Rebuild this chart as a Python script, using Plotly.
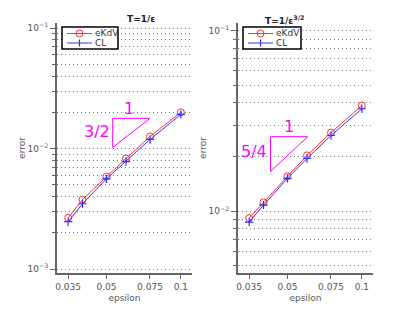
import math
import plotly.graph_objects as go

# ---- data ----
epsilon = [0.035, 0.04, 0.05, 0.06, 0.075, 0.1]
ekdv_left = [0.00266, 0.00376, 0.00585, 0.00826, 0.0126, 0.0200]
cl_left = [0.00247, 0.00348, 0.0056, 0.0078, 0.0119, 0.0192]
ekdv_right = [0.00914, 0.0112, 0.0156, 0.0204, 0.0273, 0.0385]
cl_right = [0.0087, 0.0108, 0.0152, 0.0196, 0.0263, 0.0370]

series_names = ["eKdV", "CL"]

x_ticks = [0.035, 0.05, 0.075, 0.1]
x_ticktext = ["0.035", "0.05", "0.075", "0.1"]
y_ticks_left = [0.001, 0.01, 0.1]
y_ticktext_left = ["10<sup>−3</sup>", "10<sup>−2</sup>", "10<sup>−1</sup>"]
y_ticks_right = [0.01, 0.1]
y_ticktext_right = ["10<sup>−2</sup>", "10<sup>−1</sup>"]

# slope triangles (x, y) and labels
tri_left_x = [0.053, 0.075, 0.053, 0.053]
tri_left_y = [0.0178, 0.0178, 0.0102, 0.0178]
tri_right_x = [0.0427, 0.0604, 0.0427, 0.0427]
tri_right_y = [0.0259, 0.0259, 0.0166, 0.0259]
lab_left = [("1", 0.0615, 0.0215), ("3/2", 0.0459, 0.01387)]
lab_right = [("1", 0.0509, 0.0295), ("5/4", 0.0366, 0.0214)]

titles = ["T=1/ε", "T=1/ε<sup>3/2</sup>"]

FONT = "DejaVu Sans"
AX = "#666666"
GRID = "#777777"
MAGENTA = "#ff00ff"
RED = "#ff3030"
BLUE = "#3030ff"

W, H = 412, 310
def fx(px):
    return px / W
def fy(py):
    return 1 - py / H

fig = go.Figure()

def minor_vals(lo, hi):
    out = []
    for d in range(lo, hi):
        for m in range(2, 10):
            out.append(m * 10 ** d)
    return out

panels = [
    dict(xa="x", ya="y", ekdv=ekdv_left, cl=cl_left, tx=tri_left_x, ty=tri_left_y,
         labs=lab_left, leg=(62, 27, 118, 49)),
    dict(xa="x2", ya="y2", ekdv=ekdv_right, cl=cl_right, tx=tri_right_x, ty=tri_right_y,
         labs=lab_right, leg=(243, 27, 301, 49)),
]

for p in panels:
    fig.add_trace(go.Scatter(x=epsilon, y=p["ekdv"], name=series_names[0], mode="lines+markers",
                             line=dict(color=RED, width=1),
                             marker=dict(symbol="circle-open", size=7, color=RED, line=dict(width=1)),
                             xaxis=p["xa"], yaxis=p["ya"], showlegend=False))
    fig.add_trace(go.Scatter(x=epsilon, y=p["cl"], name=series_names[1], mode="lines+markers",
                             line=dict(color=BLUE, width=1),
                             marker=dict(symbol="cross-thin-open", size=6, color=BLUE, line=dict(width=1.2, color=BLUE)),
                             xaxis=p["xa"], yaxis=p["ya"], showlegend=False))
    fig.add_trace(go.Scatter(x=p["tx"], y=p["ty"], mode="lines", showlegend=False,
                             line=dict(color=MAGENTA, width=1), hoverinfo="skip",
                             xaxis=p["xa"], yaxis=p["ya"]))
    for t, x, y in p["labs"]:
        fig.add_annotation(text=t, x=math.log10(x), y=math.log10(y), xref=p["xa"], yref=p["ya"],
                           showarrow=False, font=dict(family=FONT, size=16, color=MAGENTA))

    # manual legend box
    x0, y0, x1, y1 = p["leg"]
    fig.add_shape(type="rect", xref="paper", yref="paper", x0=fx(x0), x1=fx(x1), y0=fy(y1), y1=fy(y0),
                  line=dict(color="black", width=1.5), fillcolor="white", layer="above")
    rows = [(y0 + 6.5, RED, "circle"), (y0 + 16, BLUE, "plus")]
    for (ry, col, sym), name in zip(rows, series_names):
        fig.add_shape(type="line", xref="paper", yref="paper", x0=fx(x0 + 5), x1=fx(x0 + 30),
                      y0=fy(ry), y1=fy(ry), line=dict(color=col, width=1), layer="above")
        mx = x0 + 17.5
        if sym == "circle":
            fig.add_shape(type="circle", xref="paper", yref="paper", x0=fx(mx - 3.5), x1=fx(mx + 3.5),
                          y0=fy(ry + 3.5), y1=fy(ry - 3.5), line=dict(color=col, width=1),
                          fillcolor="rgba(0,0,0,0)", layer="above")
        else:
            fig.add_shape(type="line", xref="paper", yref="paper", x0=fx(mx), x1=fx(mx),
                          y0=fy(ry + 3.5), y1=fy(ry - 3.5), line=dict(color=col, width=1.2), layer="above")
        fig.add_annotation(text=name, x=fx(x0 + 31), y=fy(ry), xref="paper", yref="paper",
                           xanchor="left", yanchor="middle", showarrow=False,
                           font=dict(family=FONT, size=9, color="#333333"))

common_x = dict(type="log", range=[-1.501, -0.955], tickmode="array", tickvals=x_ticks,
                ticktext=x_ticktext, showline=True, linecolor=AX, linewidth=2, ticks="outside",
                ticklen=4, tickcolor=AX, showgrid=False, zeroline=False, automargin=False,
                tickfont=dict(family=FONT, size=9, color="#555555"),
                title=dict(text="epsilon", font=dict(family=FONT, size=9, color="#555555"), standoff=4))

def yaxis_def(rng, tv, tt, lo, hi):
    return dict(type="log", range=rng, tickmode="array", tickvals=tv, ticktext=tt,
                showline=True, linecolor=AX, linewidth=2, ticks="outside", ticklen=5, tickcolor=AX,
                showgrid=True, gridcolor=GRID, griddash="1px,3px", gridwidth=1, zeroline=False,
                automargin=False,
                minor=dict(tickmode="array", tickvals=minor_vals(lo, hi), ticks="outside", ticklen=3,
                           tickcolor=AX, showgrid=True, gridcolor=GRID, griddash="1px,3px", gridwidth=1),
                tickfont=dict(family=FONT, size=9, color="#555555"),
                title=dict(text="error", font=dict(family=FONT, size=9, color="#555555"), standoff=0))

ydom = [fy(273), fy(23)]
fig.update_layout(
    width=W, height=H, margin=dict(l=0, r=0, t=0, b=0),
    paper_bgcolor="white", plot_bgcolor="white",
    xaxis=dict(common_x, domain=[fx(57), fx(192)], anchor="y"),
    xaxis2=dict(common_x, domain=[fx(238), fx(373)], anchor="y2"),
    yaxis=dict(yaxis_def([-3.033, -0.958], y_ticks_left, y_ticktext_left, -3, -1),
               domain=ydom, anchor="x"),
    yaxis2=dict(yaxis_def([-2.343, -0.956], y_ticks_right, y_ticktext_right, -3, -1),
                domain=ydom, anchor="x2"),
    showlegend=False,
)

for t, cx in zip(titles, [124.5, 305.5]):
    fig.add_annotation(text="<b>" + t + "</b>", x=fx(cx), y=fy(12), xref="paper", yref="paper",
                       showarrow=False, font=dict(family=FONT, size=9, color="#222222"))

fig.write_html("out.html", config={"displayModeBar": False},
               post_script="document.body.style.margin='0';")
